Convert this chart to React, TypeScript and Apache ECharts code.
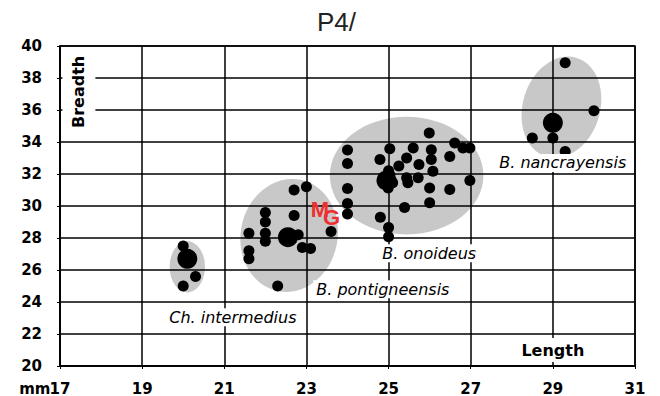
import React, { useEffect, useRef } from "react";
import * as echarts from "echarts";

const titleText = "P4/";
const xMin = 17;
const xMax = 31;
const xStep = 2;
const yMin = 20;
const yMax = 40;
const yStep = 2;

// Ellipses: [centre x, centre y, radius x (mm), radius y (mm), tilt (rad)]
const ellipses = [
  [20.1, 26.2, 0.43, 1.6, 0],
  [22.58, 28.16, 1.18, 3.55, -0.2],
  [25.44, 31.9, 1.87, 3.68, 0],
  [29.21, 36.17, 0.94, 3.23, -0.3],
];

const chIntermedius = [
  [20.0, 27.5], [20.3, 25.6], [20.0, 25.0],
];
const bPontigneensis = [
  [22.7, 31.0], [23.0, 31.2], [22.0, 29.6], [22.0, 29.0], [21.6, 28.3],
  [22.0, 28.3], [22.0, 27.8], [21.6, 27.2], [21.6, 26.7], [22.7, 29.4],
  [22.8, 28.2], [22.9, 27.4], [23.1, 27.35], [23.6, 28.4], [22.3, 25.0],
];
const bOnoideus = [
  [24.0, 33.5], [24.0, 32.65], [24.0, 31.1], [24.0, 30.15], [24.0, 29.5],
  [25.03, 33.58], [24.79, 32.9], [25.6, 33.63], [25.44, 33.0], [26.04, 33.52],
  [26.04, 32.9], [26.08, 32.17], [25.74, 32.6], [26.61, 33.94], [26.49, 33.1],
  [26.81, 33.63], [26.98, 33.63], [25.99, 34.56], [25.03, 31.96], [24.85, 31.55],
  [25.1, 31.45], [24.99, 31.13], [25.44, 31.76], [25.47, 31.45], [25.72, 31.76],
  [26.0, 31.13], [26.49, 31.03], [26.98, 31.6], [26.0, 30.2], [25.39, 29.9],
  [24.8, 29.3], [25.0, 28.65], [25.0, 28.08], [25.0, 32.2], [25.25, 32.5],
];
const bNancrayensis = [
  [29.3, 38.95], [30.0, 35.95], [28.5, 34.25], [29.0, 34.25], [29.3, 33.4],
];
const bigDots = [
  [20.1, 26.7], [22.55, 28.05], [24.95, 31.6], [29.0, 35.2],
];

const speciesNames = ["Ch. intermedius", "B. pontigneensis", "B. onoideus", "B. nancrayensis"];
const speciesLabelAt = [
  [21.21, 23.05],
  [24.86, 24.8],
  [25.99, 27.04],
  [29.24, 32.69],
];
const axisNames = ["Length", "Breadth"];
const axisNameAt = [
  [29.0, 21.0],
  [17.46, 37.13],
];
const markLetters = ["M", "G"];
const markAt = [
  [23.33, 29.78],
  [23.61, 29.26],
];

export default function App() {
  const ref = useRef<HTMLDivElement>(null);

  useEffect(() => {
    if (!ref.current) return;
    const chart = echarts.init(ref.current, undefined, { renderer: "svg" });

    const tickFont = {
      fontFamily: "DejaVu Sans",
      fontWeight: "bold" as const,
      fontSize: 15,
      lineHeight: 15,
      color: "#000",
    };

    const labelData = speciesNames.map((n, i) => ({
      value: speciesLabelAt[i],
      label: { formatter: n },
    }));
    const axisNameData = [
      {
        value: axisNameAt[0],
        label: {
          formatter: axisNames[0],
          fontStyle: "normal",
          fontWeight: "bold",
          padding: [4, 6, 4, 6],
        },
      },
      {
        value: axisNameAt[1],
        label: {
          formatter: axisNames[1],
          fontStyle: "normal",
          fontWeight: "bold",
          rotate: 90,
          padding: [3, 5, 14, 5],
        },
      },
    ];

    chart.setOption({
      animation: false,
      title: {
        text: titleText,
        left: 317,
        top: 9,
        padding: 0,
        textStyle: {
          fontFamily: "Liberation Sans",
          fontWeight: "normal",
          fontSize: 26,
          color: "#222",
        },
      },
      grid: {
        left: 60,
        right: 25,
        top: 46,
        bottom: 29,
        show: true,
        borderColor: "#000",
        borderWidth: 1.5,
        backgroundColor: "transparent",
      },
      xAxis: {
        type: "value",
        min: xMin,
        max: xMax,
        interval: xStep,
        axisLine: { show: true, lineStyle: { color: "#000", width: 1.5 } },
        axisTick: { show: true, length: 3, lineStyle: { color: "#000" } },
        splitLine: { show: true, lineStyle: { color: "#000", width: 1.5 } },
        axisLabel: { ...tickFont, margin: 15 },
      },
      yAxis: {
        type: "value",
        min: yMin,
        max: yMax,
        interval: yStep,
        axisLine: { show: true, lineStyle: { color: "#000", width: 1.5 } },
        axisTick: { show: true, length: 3, lineStyle: { color: "#000" } },
        splitLine: { show: true, lineStyle: { color: "#000", width: 1.5 } },
        axisLabel: { ...tickFont, margin: 18 },
      },
      graphic: [
        {
          type: "text",
          x: 50.5,
          y: 388.5,
          z: 100,
          style: {
            text: "mm",
            fontFamily: "DejaVu Sans",
            fontWeight: "bold",
            fontSize: 15,
            lineHeight: 14,
            fill: "#000",
            align: "right",
            verticalAlign: "middle",
          },
        },
      ],
      series: [
        {
          type: "custom",
          z: -1,
          silent: true,
          data: ellipses,
          renderItem: (params: any, api: any) => {
            const c = api.coord([api.value(0), api.value(1)]);
            const s = api.size([api.value(2), api.value(3)]);
            return {
              type: "ellipse",
              x: c[0],
              y: c[1],
              rotation: api.value(4),
              shape: { cx: 0, cy: 0, rx: s[0], ry: s[1] },
              style: { fill: "#c8c8c8" },
            };
          },
        },
        {
          type: "scatter",
          silent: true,
          symbolSize: 11,
          itemStyle: { color: "#000", opacity: 1 },
          z: 3,
          data: [...chIntermedius, ...bPontigneensis, ...bOnoideus, ...bNancrayensis],
        },
        {
          type: "scatter",
          silent: true,
          symbolSize: 20,
          itemStyle: { color: "#000", opacity: 1 },
          z: 3,
          data: bigDots,
        },
        {
          type: "scatter",
          silent: true,
          symbolSize: 0,
          z: 5,
          itemStyle: { opacity: 1 },
          label: {
            show: true,
            position: "inside",
            backgroundColor: "#fff",
            padding: [1, 3, 1, 3],
            color: "#000",
            opacity: 1,
            fontFamily: "DejaVu Sans",
            fontSize: 16,
            fontStyle: "italic",
          },
          data: [...labelData, ...axisNameData],
        },
        {
          type: "scatter",
          silent: true,
          symbolSize: 0,
          z: 6,
          itemStyle: { opacity: 1 },
          label: {
            show: true,
            position: "inside",
            color: "#ee2f2f",
            opacity: 1,
            fontFamily: "Liberation Sans Narrow, Liberation Sans",
            fontWeight: "bold",
            fontSize: 22,
          },
          data: markLetters.map((m, i) => ({ value: markAt[i], label: { formatter: m } })),
        },
      ],
    });

    return () => chart.dispose();
  }, []);

  return <div ref={ref} style={{ width: 660, height: 396, position: "absolute", left: 0, top: 0 }} />;
}
